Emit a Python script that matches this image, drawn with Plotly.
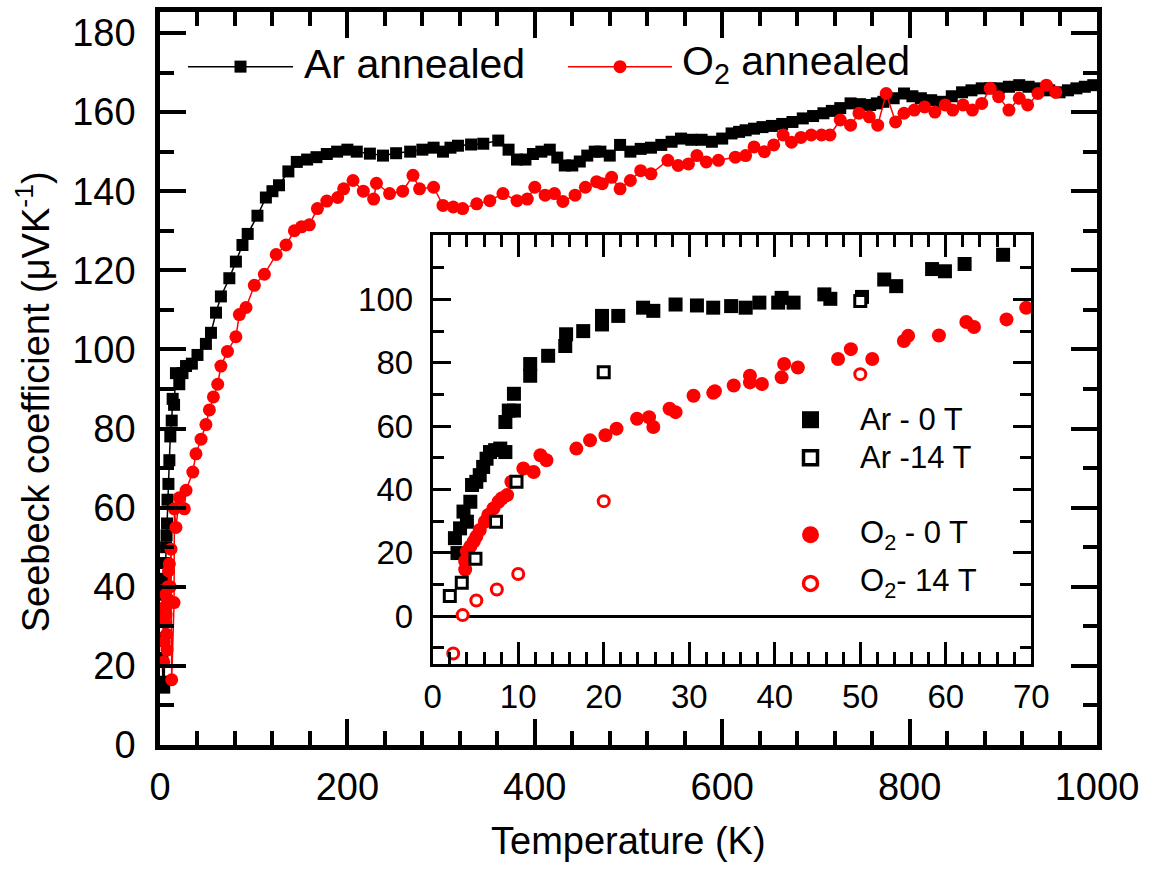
import plotly.graph_objects as go

# ---------------- data ----------------
# Main plot: Ar annealed (black squares + line)
ar_lo_T = [2.5, 3, 3.5, 4, 4.5, 5, 5.5, 6, 6.5, 7, 7.5, 8, 9, 10, 11, 12.5, 13.5, 15, 17, 20.6,
           24, 27.8, 34, 40, 49, 54.4, 59.8, 65]
ar_lo_S = [22, 16, 27, 33, 14.5, 38, 42, 46, 50, 53, 56, 62, 66, 72, 78, 82, 87.5, 86, 94, 91.2,
           94, 95.8, 96.4, 98.6, 101.4, 104.2, 109.3, 113.4]
ar_hi_T = [74, 81, 88, 93.6, 104, 113, 120, 127, 137, 146, 157, 167, 178, 189, 200, 210, 224, 238,
           252, 267, 280, 292, 302, 310, 318, 332, 345, 361, 372, 381, 390, 398, 407, 416, 424, 432,
           440, 448, 456, 464, 470, 480, 491, 502, 513, 524, 535, 546, 556, 567, 578, 589, 600, 610,
           618, 625, 634, 643, 653, 664, 675, 686, 697, 708, 717, 726, 737, 747, 758, 765, 772, 783,
           794, 803, 812, 823, 834, 845, 856, 866, 877, 886, 895, 906, 917, 927, 938, 949, 960, 969,
           978, 987, 996]
ar_hi_S = [118, 122.2, 126.4, 129.2, 133.8, 138.4, 140, 141.5, 145, 147.4, 148, 148.6, 149.4, 150,
           150.5, 150, 149.5, 149, 149.6, 150, 150.5, 151, 150, 151, 151.5, 151.8, 152, 152.8, 150.5,
           148, 148, 149.4, 150, 150.5, 148.5, 146.5, 146.5, 147.5, 149, 150, 150, 149, 151.7, 150,
           150.7, 151, 151.7, 152.5, 153.3, 153, 153, 152.5, 153.3, 154.6, 155, 155.4, 155.8, 156.2,
           156.5, 157, 157.5, 158.4, 159, 159.7, 160.3, 161, 162.2, 162, 161.8, 162.2, 162.6, 163.5,
           164.7, 164, 163.5, 163, 162.6, 164, 165, 165.5, 166, 166, 166, 166.4, 166.8, 166.4, 166,
           165.5, 165, 165.5, 166, 166.4, 166.8]

# Main plot: O2 annealed (red circles + line)
o2_lo_T = [4, 4.5, 5, 5.5, 6, 6.5, 7, 7.5, 8, 8.5, 9, 10, 11, 11.7, 12.5, 15, 15.3, 17, 20.6, 26,
           27.8, 35, 38.4, 43.8, 49, 52.7, 57, 61.6, 65, 72]
o2_lo_S = [21, 26, 31, 35, 38, 33, 28, 24, 37, 40, 44, 45.8, 40, 49.5, 16.5, 36, 59.7, 55, 62.5, 59.7,
           64.4, 69, 73.6, 77.3, 81, 84.7, 88, 91.2, 95.8, 99.5]
o2_hi_T = [81, 84.7, 91.8, 100.7, 111.4, 124, 134.5, 143.4, 151, 159.4, 168, 178, 189.7, 196, 206,
           217, 228, 231, 245, 259, 270, 277, 292, 302, 313, 323, 338, 352, 366, 381, 392, 400, 411,
           421, 430, 443, 454, 466, 472, 482, 491, 502, 513, 524, 542, 553, 564, 573, 583, 596, 614,
           625, 634, 645, 655, 665, 674, 684, 695, 706, 715, 726, 737, 746, 757, 766, 775, 785, 794,
           805, 816, 827, 838, 846, 857, 867, 877, 886, 895, 906, 917, 926, 937, 946, 956]
o2_hi_S = [103.2, 108.8, 110.6, 116.2, 119, 124, 126.4, 130, 131, 131.5, 135.6, 137.5, 138.4, 140.6,
           142.7, 140, 138, 142, 139.4, 140, 144, 140.6, 141, 136.4, 136, 135.6, 136.8, 137.6, 139.4,
           137.6, 138, 141, 139, 139.4, 137.4, 139, 141, 142.4, 141.9, 143.5, 140.6, 142.7, 145.2,
           144.4, 147.8, 146.5, 146.9, 149, 147.4, 147.8, 148.6, 149, 151.2, 150, 151.7, 154.2, 152.4,
           153.6, 154.2, 154.2, 154.2, 158, 156.7, 159.7, 158.8, 156.7, 164.7, 157.5, 159.7, 160.5,
           161.3, 160, 161.8, 160.5, 161.8, 160.5, 162.2, 166, 163.9, 160.5, 163.5, 161.8, 164.7,
           166.8, 165]

# Inset: low-temperature data
ar0_T = [2.6, 2.9, 3.2, 3.6, 4.0, 4.4, 4.6, 5.1, 5.5, 5.9, 6.3, 6.7, 7.3, 7.9, 8.5, 8.5, 8.9, 9.5,
         9.5, 11.4, 11.4, 13.5, 15.5, 15.6, 17.6, 19.8, 19.8, 21.7, 24.6, 25.8, 28.4, 30.9, 32.8,
         34.9, 36.6, 38.2, 40.4, 40.8, 42.2, 45.8, 46.5, 50.2, 52.8, 54.2, 58.4, 59.9, 62.2, 66.7]
ar0_S = [24.6, 19.9, 27.7, 33.0, 29.8, 36.1, 41.4, 42.4, 44.5, 47.1, 49.7, 51.8, 52.4, 52.9, 51.8,
         61.3, 64.9, 64.9, 70.2, 75.9, 79.6, 82.2, 85.3, 89.0, 90.0, 92.1, 94.8, 94.8, 97.4, 96.4,
         98.4, 98.1, 97.4, 97.9, 97.4, 99.0, 99.0, 100.5, 99.0, 101.6, 100.2, 100.8, 106.3, 104.2,
         109.6, 108.9, 111.2, 114.1]
ar14_T = [2.0, 3.4, 5.0, 7.4, 9.8, 20.0, 50.0]
ar14_S = [6.3, 10.5, 18.1, 29.8, 42.4, 77.0, 99.5]
o20_T = [3.8, 3.8, 4.0, 4.4, 4.8, 5.1, 5.5, 6.1, 6.5, 7.1, 7.7, 8.1, 8.7, 9.2, 10.6, 11.8, 12.6, 13.3,
         16.8, 18.4, 20.2, 21.5, 23.9, 25.3, 25.8, 27.7, 28.4, 30.5, 32.8, 33.0, 35.2, 37.1, 37.1,
         38.5, 40.8, 41.1, 42.7, 47.4, 48.9, 51.4, 55.1, 55.6, 59.2, 62.4, 63.3, 67.1, 69.4]
o20_S = [14.7, 17.3, 20.4, 22.0, 23.6, 25.1, 27.2, 29.8, 31.9, 34.0, 36.1, 37.2, 38.2, 42.4, 46.6,
         45.5, 50.8, 49.2, 52.9, 55.5, 57.1, 59.2, 62.3, 62.8, 59.7, 65.5, 64.4, 69.6, 70.5, 71.0,
         72.8, 73.8, 75.9, 73.3, 75.4, 79.6, 78.5, 81.2, 84.3, 81.2, 86.9, 88.5, 88.6, 92.9, 91.3,
         93.7, 97.4]
o214_T = [2.4, 3.5, 5.1, 7.5, 10.0, 20.0, 50.0]
o214_S = [-11.8, 0.3, 4.9, 8.4, 13.3, 36.3, 76.4]

main_xticks = [0, 200, 400, 600, 800, 1000]
main_yticks = [0, 20, 40, 60, 80, 100, 120, 140, 160, 180]
inset_xticks = [0, 10, 20, 30, 40, 50, 60, 70]
inset_yticks = [0, 20, 40, 60, 80, 100]

series_names = ["Ar annealed", "O<sub>2</sub> annealed"]
inset_names = ["Ar - 0 T", "Ar -14 T", "O<sub>2</sub> - 0 T", "O<sub>2</sub>- 14 T"]

# ---------------- styling / layout constants ----------------
BLACK = "#000000"
RED = "#ff0000"
FONT = "Liberation Sans, Arial, Helvetica, sans-serif"
W, H = 1152, 876
ML, MR, MT, MB = 160, 55, 7, 131
PW, PH = W - ML - MR, H - MT - MB


def px(xp):
    return (xp - ML) / PW


def py(yp):
    return (H - MB - yp) / PH


fig = go.Figure()

# main traces
fig.add_trace(go.Scatter(x=ar_lo_T + ar_hi_T, y=ar_lo_S + ar_hi_S, mode="lines+markers",
                         line=dict(color=BLACK, width=1.5),
                         marker=dict(symbol="square", size=12, color=BLACK),
                         cliponaxis=False, name="Ar annealed", xaxis="x", yaxis="y"))
fig.add_trace(go.Scatter(x=o2_lo_T + o2_hi_T, y=o2_lo_S + o2_hi_S, mode="lines+markers",
                         line=dict(color=RED, width=1.5),
                         marker=dict(symbol="circle", size=13, color=RED),
                         cliponaxis=False, name="O2 annealed", xaxis="x", yaxis="y"))

# inset traces
fig.add_trace(go.Scatter(x=ar0_T, y=ar0_S, mode="markers",
                         marker=dict(symbol="square", size=14, color=BLACK),
                         cliponaxis=False, xaxis="x2", yaxis="y2"))
fig.add_trace(go.Scatter(x=o20_T, y=o20_S, mode="markers",
                         marker=dict(symbol="circle", size=14, color=RED),
                         cliponaxis=False, xaxis="x2", yaxis="y2"))
fig.add_trace(go.Scatter(x=ar14_T, y=ar14_S, mode="markers",
                         marker=dict(symbol="square", size=11, color="white",
                                     line=dict(color=BLACK, width=3)),
                         cliponaxis=False, xaxis="x2", yaxis="y2"))
fig.add_trace(go.Scatter(x=o214_T, y=o214_S, mode="markers",
                         marker=dict(symbol="circle", size=11, color="white",
                                     line=dict(color=RED, width=3)),
                         cliponaxis=False, xaxis="x2", yaxis="y2"))

axis_common = dict(showgrid=False, zeroline=False, showline=True, linecolor=BLACK,
                   mirror="ticks", ticks="inside", tickcolor=BLACK)

fig.update_layout(
    width=W, height=H,
    margin=dict(l=ML, r=MR, t=MT, b=MB),
    paper_bgcolor="white", plot_bgcolor="white",
    font=dict(family=FONT, color=BLACK),
    showlegend=False,
    xaxis=dict(**axis_common, domain=[0, 1], range=[0, 1000], linewidth=4.5,
               tickvals=main_xticks, ticktext=[str(v) for v in main_xticks],
               ticklen=26, tickwidth=3.5, ticklabelstandoff=5,
               tickfont=dict(size=38, family=FONT),
               minor=dict(ticks="inside", dtick=40, tick0=0, ticklen=14, tickwidth=3.5,
                          tickcolor=BLACK, showgrid=False),
               anchor="y"),
    yaxis=dict(**axis_common, domain=[0, 1], range=[0, 185.3], linewidth=4.5,
               tickvals=main_yticks, ticktext=[str(v) for v in main_yticks],
               ticklen=26, tickwidth=3.5, ticklabelstandoff=12,
               tickfont=dict(size=38, family=FONT),
               minor=dict(ticks="inside", dtick=10, tick0=0, ticklen=14, tickwidth=3.5,
                          tickcolor=BLACK, showgrid=False),
               anchor="x"),
    xaxis2=dict(**axis_common, domain=[px(432.7), px(1031.3)], range=[0, 70], linewidth=3,
                tickvals=inset_xticks, ticktext=[str(v) for v in inset_xticks],
                ticklen=22, tickwidth=3, ticklabelstandoff=2,
                tickfont=dict(size=33, family=FONT),
                minor=dict(ticks="inside", dtick=2, tick0=0, ticklen=12, tickwidth=3,
                           tickcolor=BLACK, showgrid=False),
                anchor="y2"),
    yaxis2=dict(showgrid=False, showline=True, linecolor=BLACK, mirror="ticks",
                ticks="inside", tickcolor=BLACK,
                domain=[py(663), py(231.7)], range=[-15, 120.3], linewidth=3,
                zeroline=True, zerolinecolor=BLACK, zerolinewidth=3,
                tickvals=inset_yticks, ticktext=[str(v) for v in inset_yticks],
                ticklen=18, tickwidth=3, ticklabelstandoff=10,
                tickfont=dict(size=33, family=FONT),
                minor=dict(ticks="inside", tickvals=[-10, 10, 30, 50, 70, 90, 110], ticklen=11,
                           tickwidth=3, tickcolor=BLACK, showgrid=False),
                anchor="x2"),
)

shapes = []
annotations = []

# main legend (line + marker sample, text)
main_leg = [
    dict(x0=188, x1=293, xm=240.5, y=62, color=BLACK, sym="rect", size=12, tx=302),
    dict(x0=568, x1=672, xm=620, y=62, color=RED, sym="circle", size=13, tx=680),
]
for name, lg in zip(series_names, main_leg):
    shapes.append(dict(type="line", xref="paper", yref="paper", x0=px(lg["x0"]), x1=px(lg["x1"]),
                       y0=py(lg["y"]), y1=py(lg["y"]), line=dict(color=lg["color"], width=1.5)))
    h = lg["size"] / 2
    shapes.append(dict(type=lg["sym"], xref="paper", yref="paper", xsizemode="pixel",
                       ysizemode="pixel", xanchor=px(lg["xm"]), yanchor=py(lg["y"]),
                       x0=-h, x1=h, y0=-h, y1=h, fillcolor=lg["color"], line=dict(width=0)))
    annotations.append(dict(text=name, xref="paper", yref="paper", x=px(lg["tx"]),
                            y=py(lg["y"] - 3), xanchor="left", yanchor="middle", showarrow=False,
                            font=dict(size=41, family=FONT, color=BLACK)))

# inset legend
inset_leg = [
    dict(y=417.5, sym="rect", fill=BLACK, line=BLACK, size=17, lw=0),
    dict(y=455.7, sym="rect", fill="white", line=BLACK, size=14, lw=3.5),
    dict(y=533.3, sym="circle", fill=RED, line=RED, size=17, lw=0),
    dict(y=582.3, sym="circle", fill="white", line=RED, size=14, lw=3.5),
]
for name, lg in zip(inset_names, inset_leg):
    h = lg["size"] / 2
    shapes.append(dict(type=lg["sym"], xref="paper", yref="paper", xsizemode="pixel",
                       ysizemode="pixel", xanchor=px(810.5), yanchor=py(lg["y"]),
                       x0=-h, x1=h, y0=-h, y1=h, fillcolor=lg["fill"],
                       line=dict(color=lg["line"], width=lg["lw"])))
    annotations.append(dict(text=name, xref="paper", yref="paper", x=px(858), y=py(lg["y"]),
                            xanchor="left", yanchor="middle", showarrow=False,
                            font=dict(size=31, family=FONT, color=BLACK)))

# axis titles
annotations.append(dict(text="Temperature (K)", xref="paper", yref="paper", x=0.5, y=py(842),
                        xanchor="center", yanchor="middle", showarrow=False,
                        font=dict(size=38, family=FONT, color=BLACK)))
annotations.append(dict(text="Seebeck coefficient (\u03bcVK<sup>-1</sup>)", xref="paper",
                        yref="paper", x=px(33), y=py(400), xanchor="center", yanchor="middle",
                        textangle=-90, showarrow=False,
                        font=dict(size=38, family=FONT, color=BLACK)))

fig.update_layout(shapes=shapes, annotations=annotations)
fig.write_html("out.html", config={"displayModeBar": False},
               post_script="document.documentElement.style.margin='0';"
                           "document.body.style.margin='0';document.body.style.padding='0';")
